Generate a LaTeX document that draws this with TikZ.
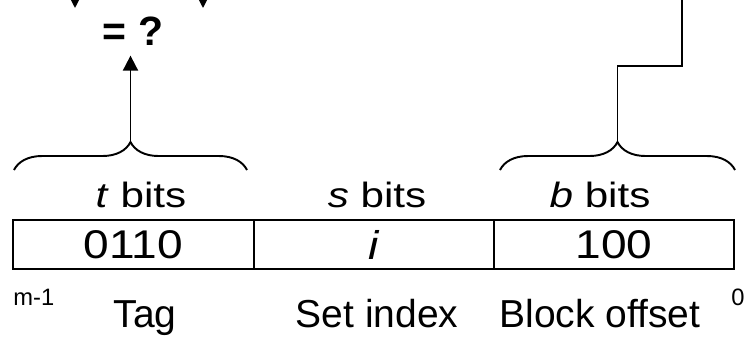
\documentclass[tikz,border=0pt]{standalone}
\usepackage{fontspec}
\setmainfont{Liberation Sans}
\newfontfamily\cellfont{Liberation Sans}[FakeStretch=1.15]
\newfontfamily\bitsfont{Liberation Sans}[FakeStretch=1.2]
\usetikzlibrary{arrows.meta,decorations.pathreplacing}

\begin{document}
\begin{tikzpicture}[x=0.02cm, y=-0.02cm,
    cell/.style={draw, line width=1.1pt, minimum height=0.98cm, inner sep=0pt, font=\cellfont\fontsize{22.8}{27}\selectfont},
    bits/.style={anchor=base, inner sep=0pt, font=\bitsfont\fontsize{20}{24}\selectfont},
    lbl/.style={anchor=base, inner sep=0pt, font=\fontsize{22.2}{27}\selectfont},
    tiny/.style={anchor=base, inner sep=0pt, font=\fontsize{13.5}{16}\selectfont},
    brc/.style={decorate, line width=1.1pt, decoration={brace, amplitude=0.56cm}},
    arr/.style={line width=1.1pt, -{Triangle[width=0.3cm, length=0.3cm]}}]
\useasboundingbox (0,0) rectangle (750,339);
\clip (0,0) rectangle (750,339);
% the address split in three fields
\node[cell, minimum width=4.82cm] (tag) at (133.5,244.5) {0110};
\node[cell, minimum width=4.8cm] (set) at (374,244.5) {\textit{i}};
\node[cell, minimum width=4.8cm] (off) at (614,244.5) {100};
\node[bits] (tbits) at (141,207) {\textit{t} bits};
\node[bits] (sbits) at (377,207) {\textit{s} bits};
\node[bits] (bbits) at (600,207) {\textit{b} bits};
\node[lbl] (tagname) at (145,327) {Tag};
\node[lbl] (setname) at (377,327) {Set index};
\node[lbl] (offname) at (600,327) {Block offset};
\node[tiny, anchor=base west] (msb) at (13,305) {m-1};
\node[tiny] (lsb) at (738,305) {0};
% braces over the tag and the offset
\draw[brc] (14,170) -- (247,170);
\draw[brc] (500,170) -- (735,170);
\coordinate (tagtip) at (130.5,142);
\coordinate (offtip) at (617.5,142);
% compare
\node[inner sep=0.2cm, font=\fontsize{23.3}{28}\selectfont\bfseries] (cmp) at (133,31) {= ?};
\draw[arr] (tagtip) -- (tagtip |- cmp.south);
\coordinate (inA) at (75,-30);
\coordinate (inB) at (203,-30);
\coordinate (endA) at (75,8);
\coordinate (endB) at (203,8);
\draw[arr] (inA) -- (endA);
\draw[arr] (inB) -- (endB);
\coordinate (offout) at (682,-20);
\draw[line width=1.1pt] (offtip) -- ++(0,-76) -| (offout);
\end{tikzpicture}
\end{document}
